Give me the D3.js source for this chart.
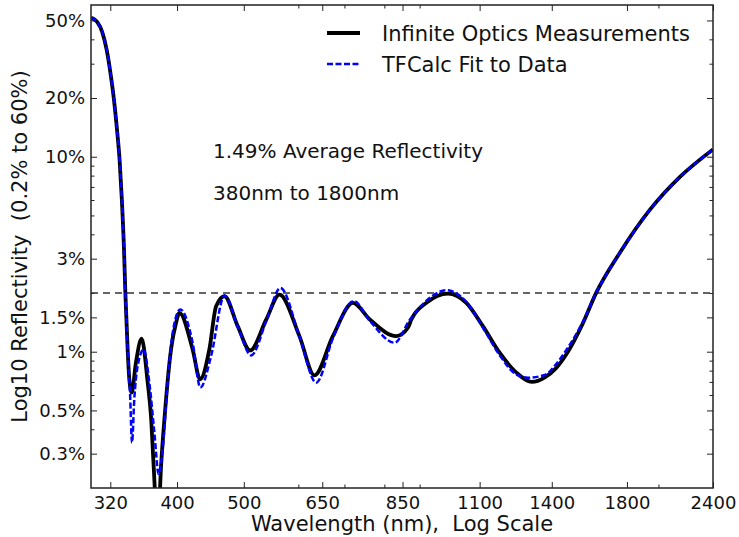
<!DOCTYPE html>
<html>
<head>
<meta charset="utf-8">
<script src="https://cdn.jsdelivr.net/npm/d3@7"></script>
<style>
  body { margin: 0; background: #fff; }
  text { font-family: "DejaVu Sans", sans-serif; fill: #111; white-space: pre; }
  .axis text { font-size: 18px; }
  .axis line { stroke: #222; stroke-width: 1; }
  .axis path { display: none; }
</style>
</head>
<body>
<div id="chart"></div>
<script>
// Infinite Optics measurements (wavelength nm, reflectivity %)
const measWl = [300, 303.3, 306.4, 311.5, 316.2, 320.5, 324, 327.3, 330.1, 332.6, 335, 336.5,
  339.1, 341, 343.7, 348.6, 355.3, 362.6, 366.6, 369.9, 375, 379.2, 383.8, 392, 398.7, 403.1,
  421.4, 432, 445.6, 455.8, 468.7, 489.9, 510.7, 539, 563.3, 602.2, 633.3, 673.4, 720,
  762, 832.6, 865.4, 875.5, 920.4, 989.4, 1052, 1112, 1176, 1244, 1310, 1368, 1419, 1470,
  1553, 1622, 1758, 1944, 2149, 2400];
const measR = [51.5, 50.7, 48.96, 43.6, 35.2, 26.2, 19.5, 13.7, 9.63, 6.01, 3.34, 2.01,
  1.027, 0.722, 0.617, 0.878, 1.166, 0.694, 0.4685, 0.26, 0.12, 0.26, 0.4685, 1.027, 1.406, 1.583,
  1.027, 0.722, 1.027, 1.712, 1.925, 1.352, 1.015, 1.463, 1.964, 1.202, 0.756, 1.202, 1.78,
  1.463, 1.202, 1.327, 1.463, 1.78, 1.987, 1.78, 1.352, 0.988, 0.781, 0.70, 0.739, 0.821, 0.97,
  1.396, 1.987, 3.22, 5.35, 7.88, 10.9];

// TFCalc fit (wavelength nm, reflectivity %)
const fitWl = [300, 303.3, 306.4, 311.5, 316.2, 320.5, 324, 327.3, 330.1, 332.6, 335, 336.5,
  339.1, 341.8, 344.1, 346.7, 350.6, 357.7, 364.6, 370.8, 376.1, 381.2, 387.6, 394.2, 404.4,
  421.4, 432.4, 448.2, 468.7, 490.5, 512.4, 540, 565.1, 603, 636.9, 674, 722, 762, 827.9,
  870, 920, 984, 1052, 1112, 1176, 1240, 1293, 1368, 1419, 1470, 1553, 1622, 1758, 1944,
  2149, 2400];
const fitR = [51.5, 50.7, 48.96, 43.6, 35.2, 26.2, 19.5, 13.7, 9.63, 6.01, 3.34, 2.01,
  1.027, 0.617, 0.342, 0.57, 0.844, 1.027, 0.694, 0.385, 0.2357, 0.316, 0.694, 1.25, 1.646,
  1.112, 0.655, 0.95, 1.941, 1.33, 0.957, 1.463, 2.125, 1.18, 0.694, 1.18, 1.82, 1.44, 1.112,
  1.45, 1.82, 2.066, 1.80, 1.33, 0.96, 0.77, 0.736, 0.76, 0.86, 1.02,
  1.42, 1.987, 3.22, 5.35, 7.88, 10.9];

const refLevel = 2; // dashed reference line (%)

const xTicks = [320, 400, 500, 650, 850, 1100, 1400, 1800, 2400];
const xMinor = [600, 700, 800, 900, 2000];
const yTicks = [0.3, 0.5, 1, 1.5, 3, 10, 20, 50];
const yTickLabels = ["0.3%", "0.5%", "1%", "1.5%", "3%", "10%", "20%", "50%"];
const yMinor = [0.4, 0.6, 0.7, 0.8, 0.9, 2, 4, 5, 6, 7, 8, 9, 30, 40];

const seriesNames = ["Infinite Optics Measurements", "TFCalc Fit to Data"];
const notes = ["1.49% Average Reflectivity", "380nm to 1800nm"];

function reflectivityChart() {
  const margin = { top: 5, right: 26, bottom: 49, left: 91 };
  const width = 739 - margin.left - margin.right;
  const height = 537 - margin.top - margin.bottom;

  const x = d3.scaleLog().domain([300, 2400]).range([0, width]);
  const y = d3.scaleLog().domain([0.2, 60]).range([height, 0]);

  const svg = d3
    .select("#chart")
    .append("svg")
    .attr("width", width + margin.left + margin.right)
    .attr("height", height + margin.top + margin.bottom)
    .append("g")
    .attr("transform", "translate(" + margin.left + "," + margin.top + ")");

  svg.append("clipPath")
    .attr("id", "clip")
    .append("rect")
    .attr("width", width)
    .attr("height", height);

  // ticks on all four sides, pointing inward
  const major = 6, minor = 3.5;
  svg.append("g").attr("class", "axis")
    .attr("transform", "translate(0," + height + ")")
    .call(d3.axisBottom(x).tickValues(xTicks).tickFormat(d => d)
      .tickSize(-major).tickSizeOuter(0).tickPadding(8));
  svg.append("g").attr("class", "axis")
    .attr("transform", "translate(0," + height + ")")
    .call(d3.axisBottom(x).tickValues(xMinor).tickFormat("").tickSize(-minor).tickSizeOuter(0));
  svg.append("g").attr("class", "axis")
    .call(d3.axisTop(x).tickValues(xTicks).tickFormat("").tickSize(-major).tickSizeOuter(0));
  svg.append("g").attr("class", "axis")
    .call(d3.axisTop(x).tickValues(xMinor).tickFormat("").tickSize(-minor).tickSizeOuter(0));

  svg.append("g").attr("class", "axis")
    .call(d3.axisLeft(y).tickValues(yTicks).tickFormat((d, i) => yTickLabels[i])
      .tickSize(-major).tickSizeOuter(0).tickPadding(6));
  svg.append("g").attr("class", "axis")
    .call(d3.axisLeft(y).tickValues(yMinor).tickFormat("").tickSize(-minor).tickSizeOuter(0));
  svg.append("g").attr("class", "axis")
    .attr("transform", "translate(" + width + ",0)")
    .call(d3.axisRight(y).tickValues(yTicks).tickFormat("").tickSize(-major).tickSizeOuter(0));
  svg.append("g").attr("class", "axis")
    .attr("transform", "translate(" + width + ",0)")
    .call(d3.axisRight(y).tickValues(yMinor).tickFormat("").tickSize(-minor).tickSizeOuter(0));

  // reference line
  svg.append("line")
    .attr("x1", 0).attr("x2", width)
    .attr("y1", y(refLevel)).attr("y2", y(refLevel))
    .attr("stroke", "#333")
    .attr("stroke-width", 1.3)
    .attr("stroke-dasharray", "7,5");

  const line = d3.line()
    .x(d => x(d[0]))
    .y(d => y(d[1]))
    .curve(d3.curveMonotoneX);

  const plot = svg.append("g").attr("clip-path", "url(#clip)");

  plot.append("path")
    .datum(d3.zip(measWl, measR))
    .attr("fill", "none")
    .attr("stroke", "#000")
    .attr("stroke-width", 3.8)
    .attr("stroke-linejoin", "round")
    .attr("d", line);

  plot.append("path")
    .datum(d3.zip(fitWl, fitR))
    .attr("fill", "none")
    .attr("stroke", "#0000ff")
    .attr("stroke-width", 2.5)
    .attr("stroke-dasharray", "6,2.5")
    .attr("d", line);

  // frame
  svg.append("rect")
    .attr("width", width)
    .attr("height", height)
    .attr("fill", "none")
    .attr("stroke", "#222")
    .attr("stroke-width", 1.5);

  // legend
  const legend = svg.selectAll(".legend")
    .data(seriesNames)
    .enter()
    .append("g")
    .attr("class", "legend")
    .attr("transform", (d, i) => "translate(236," + (28 + i * 31) + ")");

  legend.append("line")
    .attr("x1", 0).attr("x2", 33)
    .attr("stroke", (d, i) => i === 0 ? "#000" : "#0000ff")
    .attr("stroke-width", (d, i) => i === 0 ? 4 : 2.5)
    .attr("stroke-dasharray", (d, i) => i === 0 ? null : "6,2.5");

  legend.append("text")
    .attr("x", 55)
    .attr("dy", "0.36em")
    .style("font-size", "21px")
    .text(d => d);

  // notes
  svg.selectAll(".note")
    .data(notes)
    .enter()
    .append("text")
    .attr("class", "note")
    .attr("x", 122)
    .attr("y", (d, i) => 153 + i * 42)
    .style("font-size", "20px")
    .text(d => d);

  // axis labels
  svg.append("text")
    .attr("x", width / 2)
    .attr("y", 526)
    .attr("text-anchor", "middle")
    .style("font-size", "21px")
    .text("Wavelength (nm),  Log Scale");

  svg.append("text")
    .attr("transform", "translate(-64," + height / 2 + ") rotate(-90)")
    .attr("text-anchor", "middle")
    .style("font-size", "21px")
    .text("Log10 Reflectivity  (0.2% to 60%)");
}

reflectivityChart();
</script>
</body>
</html>
